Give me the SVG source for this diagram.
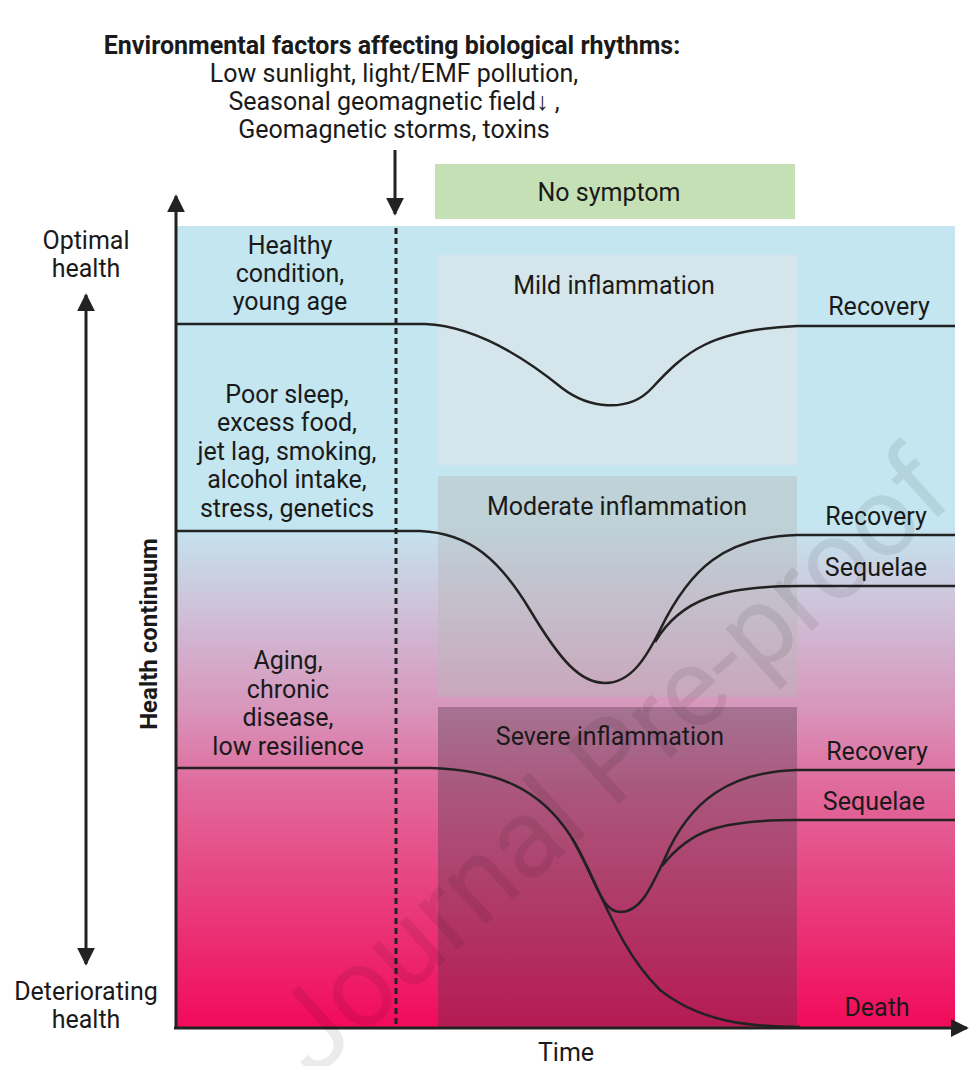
<svg xmlns="http://www.w3.org/2000/svg" width="975" height="1066" viewBox="0 0 975 1066">
<style>
text{font-family:Roboto,"Liberation Sans",sans-serif;font-size:25px;fill:#1a1a1a;text-anchor:middle}
.b{font-weight:bold;font-size:25px}
.v{font-weight:bold;font-size:24px}
.c{fill:none;stroke:#222;stroke-width:2.5}
.ax{fill:none;stroke:#222;stroke-width:3}
</style>
<defs>
<linearGradient id="bg" x1="0" y1="226" x2="0" y2="1028" gradientUnits="userSpaceOnUse">
<stop offset="0" stop-color="#c3e6f0"/>
<stop offset="0.37" stop-color="#c3e6f0"/>
<stop offset="0.47" stop-color="#cec4da"/>
<stop offset="0.6" stop-color="#d896bc"/>
<stop offset="0.7" stop-color="#e06a9c"/>
<stop offset="1" stop-color="#f20a5a"/>
</linearGradient>
<marker id="ah" viewBox="0 0 10 10" refX="9" refY="5" markerWidth="6" markerHeight="6" orient="auto-start-reverse" markerUnits="strokeWidth">
<path d="M0,0 L10,5 L0,10 z" fill="#222"/>
</marker>
</defs>

<g id="background">
<rect x="176" y="226" width="779" height="802" fill="url(#bg)"/>
</g>

<g id="title">
<text class="b" x="392" y="54">Environmental factors affecting biological rhythms:</text>
<text x="394" y="82">Low sunlight, light/EMF pollution,</text>
<text x="394" y="110">Seasonal geomagnetic field↓ ,</text>
<text x="394" y="138">Geomagnetic storms, toxins</text>
</g>

<g id="no-symptom">
<rect x="435" y="164" width="360" height="55" fill="#c6e0b6"/>
<text x="609" y="201">No symptom</text>
</g>

<g id="mild-box">
<rect x="438" y="255" width="359" height="210" fill="#e6e6e6" fill-opacity="0.5"/>
<text x="614" y="294">Mild inflammation</text>
</g>
<g id="moderate-box">
<rect x="438" y="476" width="359" height="221" fill="#b8b8b8" fill-opacity="0.43"/>
<text x="617" y="515">Moderate inflammation</text>
</g>
<g id="severe-box">
<rect x="438" y="707" width="359" height="321" fill="#4a3848" fill-opacity="0.36"/>
<text x="610" y="745">Severe inflammation</text>
</g>

<g id="left-labels">
<text x="86" y="249">Optimal</text>
<text x="86" y="277">health</text>
<text x="86" y="1000">Deteriorating</text>
<text x="86" y="1028">health</text>
<text class="v" transform="translate(157,634) rotate(-90)">Health continuum</text>
<text x="566" y="1061">Time</text>
</g>

<g id="factor-healthy">
<text x="290" y="254">Healthy</text>
<text x="290" y="282">condition,</text>
<text x="290" y="310">young age</text>
</g>
<g id="factor-lifestyle">
<text x="287" y="403">Poor sleep,</text>
<text x="287" y="431">excess food,</text>
<text x="287" y="460">jet lag, smoking,</text>
<text x="287" y="488">alcohol intake,</text>
<text x="287" y="517">stress, genetics</text>
</g>
<g id="factor-aging">
<text x="288" y="669">Aging,</text>
<text x="288" y="698">chronic</text>
<text x="288" y="726">disease,</text>
<text x="288" y="755">low resilience</text>
</g>

<g id="outcomes">
<text x="879" y="315">Recovery</text>
<text x="876" y="525">Recovery</text>
<text x="876" y="576">Sequelae</text>
<text x="877" y="760">Recovery</text>
<text x="874" y="810">Sequelae</text>
<text x="877" y="1016">Death</text>
</g>

<g id="connectors">
<line class="ax" x1="176" y1="1028" x2="176" y2="196" marker-end="url(#ah)"/>
<line class="ax" x1="174" y1="1028" x2="967" y2="1028" marker-end="url(#ah)"/>
<line class="ax" x1="86" y1="295" x2="86" y2="964" marker-start="url(#ah)" marker-end="url(#ah)"/>
<line class="ax" x1="395" y1="150" x2="395" y2="214" marker-end="url(#ah)"/>
<line x1="396" y1="228" x2="396" y2="1028" stroke="#222" stroke-width="3" stroke-dasharray="6,4"/>
<path class="c" d="M176,324 L425,324 C475,326 525,358 562,388 C588,408 628,414 652,388 C685,352 710,330 797,326 L955,326"/>
<path class="c" d="M176,531 L420,531 C470,533 500,560 530,610 C560,660 580,683 605,683 C630,683 645,660 660,630 C690,568 725,537 797,535 L955,535"/>
<path class="c" d="M655,642 C680,600 720,586 800,586 L955,586"/>
<path class="c" d="M176,768 L430,768 C500,770 540,790 570,835 C595,875 600,912 620,912 C640,912 650,890 665,858 C690,800 730,772 797,770 L955,770"/>
<path class="c" d="M662,866 C690,830 720,820 797,820 L955,820"/>
<path class="c" d="M572,838 C600,885 615,945 660,990 C700,1022 750,1027 800,1027"/>
</g>

<g id="watermark">
<text transform="translate(635,790) rotate(-42)" style="font-size:112px;fill:#000;fill-opacity:0.08">Journal Pre-proof</text>
</g>
</svg>
